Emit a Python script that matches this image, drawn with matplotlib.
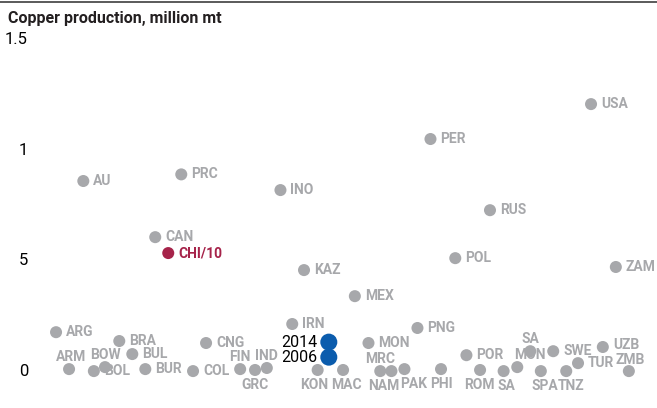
import matplotlib
matplotlib.use("Agg")
import matplotlib.pyplot as plt
import matplotlib.transforms as mtransforms
from matplotlib import font_manager

# Copper producers: position along the row, output (million mt), label and label placement
names = ["ARG", "ARM", "AU", "BOL", "BOW", "BRA", "BUL", "BUR", "CAN", "PRC",
         "COL", "CNG", "FIN", "GRC", "IND", "INO", "IRN", "KAZ", "KON", "MAC",
         "MEX", "MON", "MRC", "NAM", "PAK", "PNG", "PER", "PHI", "POL", "POR",
         "ROM", "RUS", "SA", "MON", "SA", "SPA", "SWE", "TNZ", "TUR", "USA",
         "UZB", "ZAM", "ZMB"]
xpos = [0.0, 1.05, 2.2, 3.05, 3.95, 5.1, 6.15, 7.2, 8.0, 10.1,
        11.05, 12.1, 14.85, 16.05, 17.0, 18.1, 19.05, 20.0, 21.1, 23.15,
        24.1, 25.2, 26.15, 27.05, 28.1, 29.15, 30.2, 31.05, 32.2, 33.1,
        34.2, 35.0, 36.1, 37.2, 38.25, 39.1, 40.1, 41.15, 42.1, 43.15,
        44.1, 45.15, 46.2]
output = [0.176, 0.009, 0.86, 0.0, 0.018, 0.136, 0.077, 0.009, 0.606, 0.89,
          0.0, 0.127, 0.009, 0.005, 0.014, 0.819, 0.213, 0.457, 0.005, 0.005,
          0.339, 0.127, 0.0, 0.0, 0.009, 0.195, 1.05, 0.009, 0.511, 0.072,
          0.005, 0.728, 0.0, 0.018, 0.09, 0.0, 0.09, 0.0, 0.036, 1.208,
          0.109, 0.471, 0.0]
# r = right of dot, a = above, b = below
place = ["r", "a", "r", "r", "a", "r", "r", "r", "r", "r",
         "r", "r", "a", "b", "a", "r", "r", "r", "b", "b",
         "r", "r", "a", "b", "b", "r", "r", "b", "r", "r",
         "b", "r", "b", "a", "a", "b", "r", "b", "r", "r",
         "r", "r", "a"]
# small nudges (pixels) for crowded labels
nudge = {1: 2, 18: -3, 19: 3, 23: -8, 24: 9, 30: -1, 32: 3,
         33: 13, 35: 4, 37: 5, 42: 1}
lift = {40: 2, 42: -1}

chile_x, chile_y = 9.05, 0.534
chile_label = "CHI/10"

years = ["2014", "2006"]
year_x = [22.0, 22.0]
year_y = [0.131, 0.063]

yticks = [0, 0.5, 1, 1.5]
ytick_labels = ["0", "5", "1", "1.5"]

gray = "#a7a8ab"
blue = "#0b5cad"
crimson = "#a6234a"

avail = {f.name for f in font_manager.fontManager.ttflist}
narrow = "Liberation Sans Narrow" if "Liberation Sans Narrow" in avail else "Roboto"
plt.rcParams["font.family"] = [narrow, "DejaVu Sans"]

fig = plt.figure(figsize=(6.57, 4.08), dpi=100)
ax = fig.add_axes([0, 0, 1, 1])
ax.set_xlim(-4.52, 48.47)
ax.set_ylim(-0.167, 1.679)
ax.axis("off")

ax.scatter(xpos, output, s=75, color=gray, edgecolors="none", zorder=3)
ax.scatter([chile_x], [chile_y], s=75, color=crimson, edgecolors="none", zorder=4)
ax.scatter(year_x, year_y, s=150, color=blue, edgecolors="none", zorder=4)

for i, (n, x, y, p) in enumerate(zip(names, xpos, output, place)):
    dx = nudge.get(i, 0)
    dy = lift.get(i, 0)
    if p == "r":
        off, ha = (10 + dx, dy), "left"
    elif p == "a":
        off, ha = (dx, 12 + dy), "center"
    else:
        off, ha = (dx, -15 + dy), "center"
    ax.annotate(n, (x, y), xytext=off, textcoords="offset pixels",
                ha=ha, va="center", color=gray, fontsize=10, fontweight="bold")

ax.annotate(chile_label, (chile_x, chile_y), xytext=(10, 0), textcoords="offset pixels",
            ha="left", va="center", color=crimson, fontsize=10, fontweight="bold")

for lab, x, y in zip(years, year_x, year_y):
    ax.annotate(lab, (x, y), xytext=(-11, 0), textcoords="offset pixels",
                ha="right", va="center", color="black", fontsize=11.5)

# y tick labels on the left edge
trans = mtransforms.blended_transform_factory(fig.transFigure, ax.transData)
for v, lab in zip(yticks, ytick_labels):
    ax.text(28 / 657, v, lab, transform=trans, ha="right", va="center",
            fontsize=12, color="black")

fig.add_artist(plt.Line2D([0, 1], [1 - 2 / 408, 1 - 2 / 408], color="#4d4d4d", lw=1.3))
fig.text(8 / 657, 1 - 18 / 408, "Copper production, million mt", ha="left", va="center",
         fontsize=11.5, fontweight="bold", color="#231f20")

fig.savefig("out.png", dpi=100)
